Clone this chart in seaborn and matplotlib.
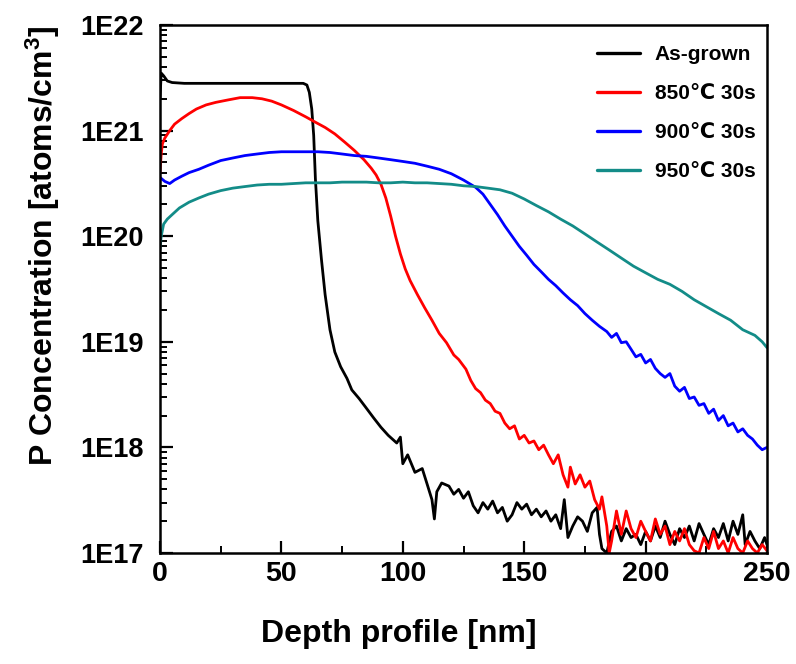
import matplotlib
matplotlib.use("Agg")
import matplotlib.pyplot as plt
import seaborn as sns
import pandas as pd
from matplotlib.ticker import FixedLocator, LogLocator, NullFormatter

# ---- data ----
samples = ["As-grown", "850℃ 30s", "900℃ 30s", "950℃ 30s"]

asgrown_depth = [0, 0.5, 1.5, 3, 5, 10, 20, 30, 40, 50, 59, 60.5, 61.5, 62.5, 63.3, 64, 65,
                 66.5, 68, 70, 72, 74.4, 77, 79, 82, 84.7, 88, 91, 94, 97.5, 99, 100, 102, 105,
                 108, 110, 112, 113, 114, 116, 119, 121, 123, 125, 127, 129, 131, 133, 135, 137,
                 139, 141, 143, 145, 147, 149, 151, 153, 155, 157, 159, 161, 163, 165, 166.5,
                 168, 170, 172, 174, 176, 178, 180, 181, 182, 184, 186, 188, 190, 192, 194, 196,
                 198, 200, 202, 204, 206, 208, 210, 212, 214, 216, 218, 220, 222, 224, 226, 228,
                 230, 232, 234, 236, 238, 240, 241, 243, 245, 247, 249, 250]
asgrown_conc = [2.0e21, 3.5e21, 3.3e21, 2.95e21, 2.85e21, 2.8e21, 2.8e21, 2.8e21, 2.8e21,
                2.8e21, 2.8e21, 2.7e21, 2.3e21, 1.6e21, 9.0e20, 3.5e20, 1.4e20,
                6.0e19, 2.8e19, 1.3e19, 8.0e18, 5.8e18, 4.5e18, 3.5e18, 2.9e18, 2.4e18, 1.9e18,
                1.55e18, 1.3e18, 1.1e18, 1.25e18, 7.0e17, 8.5e17, 5.8e17,
                6.3e17, 4.5e17, 3.2e17, 2.1e17, 3.8e17, 4.6e17, 4.3e17, 3.6e17, 4.0e17, 3.3e17,
                3.8e17, 2.8e17, 2.4e17, 3.0e17, 2.6e17, 3.1e17,
                2.4e17, 2.7e17, 2.0e17, 2.3e17, 3.0e17, 2.6e17, 2.9e17, 2.3e17, 2.6e17, 2.2e17,
                2.5e17, 2.0e17, 2.3e17, 1.7e17, 3.2e17,
                1.4e17, 1.8e17, 2.2e17, 2.0e17, 1.6e17, 2.4e17, 2.7e17, 1.5e17, 1.1e17, 1.0e17,
                1.6e17, 1.8e17, 1.3e17, 1.7e17, 1.4e17, 1.5e17,
                1.2e17, 1.6e17, 1.3e17, 1.8e17, 1.4e17, 2.0e17, 1.5e17, 1.2e17, 1.7e17, 1.4e17,
                1.8e17, 1.3e17, 1.9e17, 1.5e17, 1.2e17, 1.7e17,
                1.4e17, 1.9e17, 1.3e17, 2.0e17, 1.5e17, 2.3e17, 1.2e17, 1.6e17, 1.3e17, 1.1e17,
                1.4e17, 1.2e17]

a850_depth = [0, 0.5, 1, 2, 4, 6, 9, 12, 15, 19, 23, 28, 33, 38, 42, 46, 50, 55, 60, 64, 68,
              72, 76, 80, 84, 87, 89, 91, 93, 95, 97, 99, 101, 103, 106, 109, 112, 115, 118,
              121, 123, 126, 128, 130, 132, 134, 136, 138, 140, 142, 144, 146, 148, 150, 152,
              154, 156, 158, 160, 162, 164, 166, 168, 169, 171, 173, 175, 177, 179, 181, 182,
              184, 185, 186, 188, 190, 192, 194, 196, 198, 200, 202, 204, 206, 208, 210, 212,
              214, 216, 218, 220, 222, 224, 226, 228, 230, 232, 234, 236, 238, 240, 242, 244,
              246, 248, 250]
a850_conc = [4.0e20, 6.0e20, 7.5e20, 8.5e20, 1.0e21, 1.15e21, 1.3e21, 1.45e21, 1.6e21,
             1.75e21, 1.85e21, 1.95e21, 2.05e21, 2.05e21, 2.0e21, 1.9e21, 1.75e21, 1.55e21,
             1.35e21, 1.2e21, 1.07e21,
             9.3e20, 7.8e20, 6.5e20, 5.3e20, 4.4e20, 3.8e20, 3.1e20, 2.3e20, 1.55e20, 1.0e20,
             6.8e19, 4.9e19, 3.8e19, 2.8e19, 2.1e19, 1.6e19, 1.2e19, 9.8e18,
             7.5e18, 6.8e18, 5.5e18, 4.3e18, 3.6e18, 3.3e18, 2.8e18, 2.6e18, 2.2e18, 2.1e18,
             1.7e18, 1.5e18, 1.6e18, 1.2e18, 1.3e18, 1.1e18,
             1.15e18, 9.5e17, 1.05e18, 8.5e17, 7.0e17, 8.5e17, 5.5e17, 4.2e17, 6.5e17, 4.5e17,
             5.5e17, 4.2e17, 4.8e17, 3.2e17, 2.6e17, 3.4e17,
             1.8e17, 1.0e17, 1.3e17, 2.5e17, 1.5e17, 2.5e17, 1.7e17, 1.4e17, 2.0e17, 1.6e17,
             1.3e17, 2.1e17, 1.5e17, 1.8e17, 1.2e17, 1.6e17,
             1.3e17, 1.7e17, 1.2e17, 1.05e17, 1.0e17, 1.4e17, 1.1e17, 1.6e17, 1.1e17, 1.3e17,
             1.0e17, 1.4e17, 1.1e17, 1.0e17, 1.3e17, 1.1e17,
             1.0e17, 1.2e17, 1.05e17]

a900_depth = [0, 2, 4, 6, 9, 12, 16, 20, 25, 30, 35, 40, 45, 50, 55, 60, 65, 70, 75, 80, 85,
              90, 95, 100, 105, 110, 115, 120, 125, 130, 133, 136, 139, 142, 145, 148, 151,
              154, 157, 160, 163, 166, 169, 172, 175, 178, 181, 184, 186, 188, 190, 192, 194,
              196, 198, 200, 202, 204, 206, 208, 210, 212, 214, 216, 218, 220, 222, 224, 226,
              228, 230, 232, 234, 236, 238, 240, 242, 244, 246, 248, 250]
a900_conc = [3.6e20, 3.3e20, 3.15e20, 3.4e20, 3.7e20, 4.0e20, 4.3e20, 4.7e20, 5.2e20, 5.5e20,
             5.8e20, 6.0e20, 6.2e20, 6.3e20, 6.3e20, 6.3e20, 6.3e20, 6.2e20, 6.0e20, 5.8e20,
             5.7e20, 5.5e20, 5.3e20, 5.1e20, 4.9e20, 4.6e20, 4.3e20, 3.9e20, 3.4e20, 2.9e20,
             2.5e20, 2.0e20, 1.6e20, 1.25e20, 1.0e20, 8.0e19, 6.6e19,
             5.4e19, 4.6e19, 3.9e19, 3.4e19, 2.9e19, 2.5e19, 2.2e19, 1.85e19, 1.6e19, 1.4e19,
             1.25e19, 1.1e19, 1.2e19, 9.8e18, 1.0e19, 8.5e18,
             7.2e18, 7.6e18, 6.3e18, 6.8e18, 5.6e18, 5.0e18, 4.6e18, 5.0e18, 3.8e18, 3.4e18,
             3.7e18, 2.9e18, 3.0e18, 2.5e18, 2.6e18, 2.1e18,
             2.3e18, 1.8e18, 2.0e18, 1.6e18, 1.7e18, 1.4e18, 1.5e18, 1.3e18, 1.2e18, 1.05e18,
             9.5e17, 1.0e18]

a950_depth = [0, 0.5, 1.5, 3, 5, 8, 12, 16, 20, 25, 30, 35, 40, 45, 50, 55, 60, 65, 70, 75,
              80, 85, 90, 95, 100, 105, 110, 115, 120, 125, 130, 135, 140, 145, 150, 155, 160,
              165, 170, 175, 180, 185, 190, 195, 200, 205, 210, 215, 220, 225, 230, 235, 240,
              245, 248, 250]
a950_conc = [7.5e19, 1.0e20, 1.3e20, 1.45e20, 1.6e20, 1.85e20, 2.1e20, 2.3e20, 2.5e20, 2.7e20,
             2.85e20, 2.95e20, 3.05e20, 3.1e20, 3.1e20, 3.15e20, 3.2e20, 3.2e20, 3.2e20,
             3.25e20, 3.25e20, 3.25e20, 3.2e20, 3.2e20, 3.25e20, 3.2e20, 3.2e20, 3.15e20,
             3.1e20, 3.0e20, 2.95e20, 2.85e20, 2.75e20, 2.55e20, 2.25e20, 1.95e20, 1.7e20,
             1.45e20, 1.25e20, 1.05e20, 8.8e19, 7.4e19, 6.2e19, 5.2e19, 4.5e19, 3.9e19,
             3.5e19, 3.0e19, 2.5e19, 2.15e19, 1.85e19, 1.6e19, 1.3e19,
             1.15e19, 1.0e19, 8.8e18]

colors = ["#000000", "#ff0000", "#0000ff", "#138c88"]

x_ticks = [0, 50, 100, 150, 200, 250]
y_ticks = [1e17, 1e18, 1e19, 1e20, 1e21, 1e22]
y_tick_labels = ["1E17", "1E18", "1E19", "1E20", "1E21", "1E22"]

# ---- long table for seaborn ----
frames = []
for name, d, c in zip(samples,
                      [asgrown_depth, a850_depth, a900_depth, a950_depth],
                      [asgrown_conc, a850_conc, a900_conc, a950_conc]):
    frames.append(pd.DataFrame({"depth": d, "conc": c, "sample": name}))
df = pd.concat(frames, ignore_index=True)

sns.set_style("ticks")
plt.rcParams["font.family"] = ["Liberation Sans", "DejaVu Sans"]
plt.rcParams["font.weight"] = "bold"
plt.rcParams["axes.labelweight"] = "bold"
plt.rcParams["text.color"] = "black"
plt.rcParams["axes.labelcolor"] = "black"
plt.rcParams["xtick.color"] = "black"
plt.rcParams["ytick.color"] = "black"
plt.rcParams["mathtext.fontset"] = "custom"
plt.rcParams["mathtext.rm"] = "Liberation Sans:bold"
plt.rcParams["mathtext.bf"] = "Liberation Sans:bold"
plt.rcParams["mathtext.default"] = "bf"

fig = plt.figure(figsize=(7.96, 6.64), dpi=100)
ax = fig.add_axes([0.2010, 0.1672, 0.7626, 0.7952])

sns.lineplot(data=df, x="depth", y="conc", hue="sample", hue_order=samples,
             palette=dict(zip(samples, colors)), estimator=None, sort=False,
             linewidth=2.0, ax=ax)

ax.set_yscale("log")
ax.set_xlim(0, 250)
ax.set_ylim(1e17, 1e22)

ax.xaxis.set_major_locator(FixedLocator(x_ticks))
ax.xaxis.set_minor_locator(FixedLocator([25, 75, 125, 175, 225]))
ax.set_xticklabels([str(t) for t in x_ticks], fontsize=20.5, fontweight="bold")
ax.yaxis.set_major_locator(FixedLocator(y_ticks))
ax.yaxis.set_minor_locator(LogLocator(base=10, subs=range(2, 10)))
ax.yaxis.set_minor_formatter(NullFormatter())
ax.set_yticklabels(y_tick_labels, fontsize=19.5, fontweight="bold")

ax.tick_params(axis="both", which="major", direction="in", length=9, width=1.6,
               top=False, right=False)
ax.tick_params(axis="both", which="minor", direction="in", length=5, width=1.4,
               top=False, right=False)
ax.tick_params(axis="x", pad=6)
ax.tick_params(axis="y", pad=12)

for sp in ax.spines.values():
    sp.set_linewidth(1.8)
    sp.set_color("black")

ax.set_xlabel("Depth profile [nm]", fontsize=23, fontweight="bold")
ax.set_ylabel(r"P Concentration [atoms/cm$^{3}$]", fontsize=23, fontweight="bold")
ax.xaxis.set_label_coords(0.394, -0.125)
ax.yaxis.set_label_coords(-0.162, 0.582)

leg = ax.legend(loc="upper right", bbox_to_anchor=(0.995, 0.977), frameon=False,
                fontsize=15, handlelength=2.1, handletextpad=0.7, labelspacing=0.95,
                borderaxespad=0.0)
for line in leg.get_lines():
    line.set_linewidth(2.4)

fig.savefig("out.png", dpi=100)
